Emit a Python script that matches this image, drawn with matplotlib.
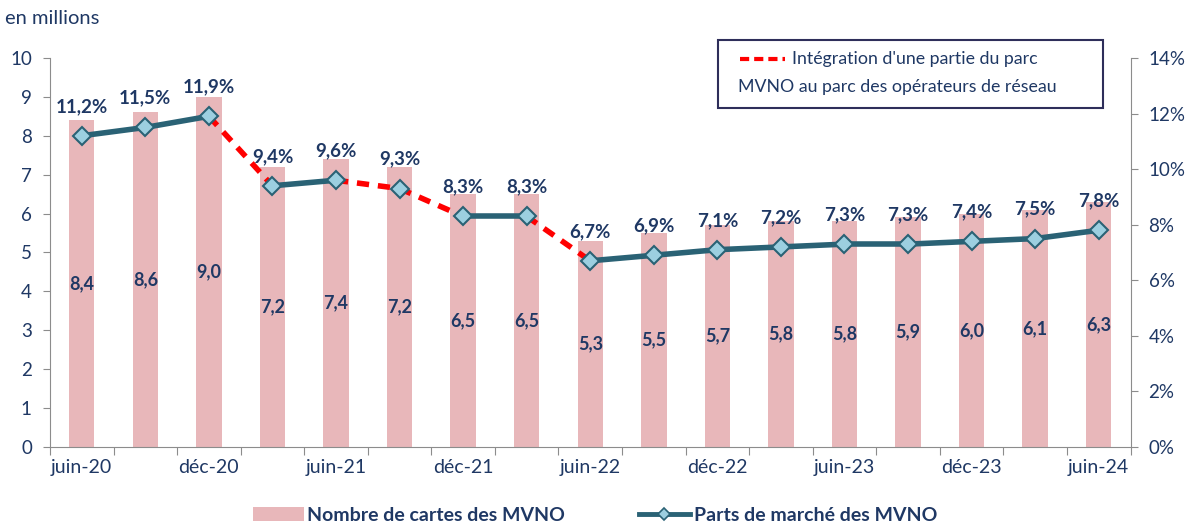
import matplotlib
matplotlib.use("Agg")
import matplotlib.pyplot as plt
from matplotlib.lines import Line2D
from matplotlib.patches import Patch, Rectangle

plt.rcParams['font.family'] = ['Lato', 'DejaVu Sans']

categories = ["juin-20", "sept-20", "déc-20", "mars-21", "juin-21", "sept-21", "déc-21", "mars-22",
              "juin-22", "sept-22", "déc-22", "mars-23", "juin-23", "sept-23", "déc-23", "mars-24", "juin-24"]
cartes = [8.4, 8.6, 9.0, 7.2, 7.4, 7.2, 6.5, 6.5, 5.3, 5.5, 5.7, 5.8, 5.8, 5.9, 6.0, 6.1, 6.3]
parts = [11.2, 11.5, 11.9, 9.4, 9.6, 9.3, 8.3, 8.3, 6.7, 6.9, 7.1, 7.2, 7.3, 7.3, 7.4, 7.5, 7.8]
# segments where integration happened (dashed red): from index i to i+1
dashed_segments = [2, 4, 5, 7]

navy = "#1F3864"
teal = "#2A6275"
bar_c = "#E8B7BA"
marker_fc = "#9CCFE0"

fig = plt.figure(figsize=(11.9, 5.25), dpi=100)
ax = fig.add_axes([0.042, 0.1486, 0.908, 0.741])
ax2 = ax.twinx()

x = list(range(len(categories)))
ax.bar(x, cartes, width=0.4, color=bar_c, zorder=1)
for xi, v in zip(x, cartes):
    ax.text(xi, v / 2, f"{v:.1f}".replace('.', ','), ha='center', va='center',
            fontsize=13, fontweight='bold', color=navy)

ax.set_ylim(0, 10)
ax.set_xlim(-0.5, len(categories) - 0.5)
ax.set_yticks(range(0, 11))
ax2.set_ylim(0, 14)
ax2.set_yticks(range(0, 15, 2))
ax2.set_yticklabels([f"{t}%" for t in range(0, 15, 2)])

# line segments
for i in range(len(parts) - 1):
    if i in dashed_segments:
        ax2.plot([i, i + 1], [parts[i], parts[i + 1]], color='#FF0000', lw=4,
                 ls=(0, (2.2, 1.6)), zorder=3, solid_capstyle='butt')
    else:
        ax2.plot([i, i + 1], [parts[i], parts[i + 1]], color=teal, lw=4, zorder=3,
                 solid_capstyle='butt')
ax2.plot(x, parts, ls='none', marker='D', ms=9, mfc=marker_fc, mec=teal, mew=1.5, zorder=4)
for xi, p in zip(x, parts):
    ax2.annotate(f"{p:.1f}%".replace('.', ','), (xi, p), xytext=(0, 15), textcoords='offset points',
                 ha='center', va='bottom', fontsize=13.5, fontweight='bold', color=navy, zorder=5)

# axes styling
for a in (ax, ax2):
    a.spines['top'].set_visible(False)
    a.spines['left'].set_color('#8C8C8C')
    a.spines['right'].set_color('#8C8C8C')
    a.spines['bottom'].set_color('#8C8C8C')
ax.spines['right'].set_visible(False)
ax2.spines['left'].set_visible(False)
ax2.spines['bottom'].set_visible(False)

ax.tick_params(axis='y', colors='#8C8C8C', labelcolor=navy, labelsize=13.5, length=5, pad=8)
ax2.tick_params(axis='y', colors='#8C8C8C', labelcolor=navy, labelsize=13.5, length=5, pad=8)

ax.set_xticks([i - 0.5 for i in range(len(categories) + 1)])
ax.set_xticklabels([])
ax.tick_params(axis='x', which='major', colors='#8C8C8C', length=6)
ax.set_xticks(x[::2], minor=True)
ax.set_xticklabels(categories[::2], minor=True)
ax.tick_params(axis='x', which='minor', length=0, labelsize=14, labelcolor=navy, pad=9)

fig.text(0.004, 0.965, "en millions", fontsize=14.5, color=navy, ha='left', va='center')

# annotation box
box = Rectangle((718 / 1190, 1 - 108 / 525), (1103 - 718) / 1190, (108 - 40) / 525,
                transform=fig.transFigure, fill=True, facecolor='white', edgecolor='#2E2E5A', lw=1.5, zorder=10)
fig.add_artist(box)
fig.add_artist(Line2D([740 / 1190, 785 / 1190], [1 - 59 / 525] * 2, transform=fig.transFigure,
                      color='#FF0000', lw=3, ls=(0, (2.2, 1.2)), zorder=11))
fig.text(792 / 1190, 1 - 59 / 525, "Intégration d'une partie du parc", fontsize=12.8, color=navy,
         ha='left', va='center', zorder=11)
fig.text(738 / 1190, 1 - 87 / 525, "MVNO au parc des opérateurs de réseau", fontsize=12.8, color=navy,
         ha='left', va='center', zorder=11)

# bottom legend
handles = [Patch(facecolor=bar_c, edgecolor='none'),
           Line2D([0], [0], color=teal, lw=3.5, marker='D', ms=6, mfc=marker_fc, mec=teal, mew=1.2)]
fig.legend(handles, ["Nombre de cartes des MVNO", "Parts de marché des MVNO"],
           loc='center', bbox_to_anchor=(0.5, 0.018), ncol=2, frameon=False,
           prop={'weight': 'bold', 'size': 14}, labelcolor=navy, handlelength=2.6,
           handletextpad=0.2, columnspacing=3.8)

fig.savefig("out.png", dpi=100)
